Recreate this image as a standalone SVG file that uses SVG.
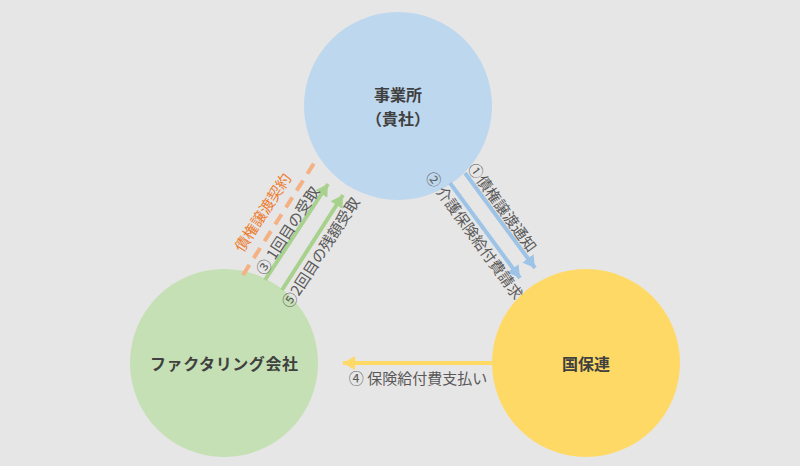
<svg xmlns="http://www.w3.org/2000/svg" width="800" height="466" viewBox="0 0 800 466">
<style>
.node-label{font-family:"Noto Sans CJK JP","Noto Sans",sans-serif;font-size:16px;font-weight:bold;fill:#404040;text-anchor:middle;dominant-baseline:central}
.lbl{font-family:"Noto Sans CJK JP","Noto Sans",sans-serif;font-size:15px;fill:#595959;text-anchor:middle;dominant-baseline:central}
.lbl-o{fill:#ed7d31}
.ln{fill:none;stroke-width:4}
</style>
<defs>
<marker id="ah-blue" markerUnits="userSpaceOnUse" markerWidth="14" markerHeight="14" refX="12" refY="7" orient="auto"><path d="M0,0 L12,7 L0,14 Z" fill="#9dc3e6"/></marker>
<marker id="ah-green" markerUnits="userSpaceOnUse" markerWidth="14" markerHeight="14" refX="12" refY="7" orient="auto"><path d="M0,0 L12,7 L0,14 Z" fill="#a9d18e"/></marker>
<marker id="ah-yellow" markerUnits="userSpaceOnUse" markerWidth="14" markerHeight="14" refX="12" refY="7" orient="auto"><path d="M0,0 L12,7 L0,14 Z" fill="#ffd966"/></marker>
</defs>
<rect width="800" height="466" fill="#e7e6e6"/>
<g id="node-office">
<circle cx="398" cy="106" r="94" fill="#bdd7ee"/>
<text class="node-label" x="398" y="94">事業所</text>
<text class="node-label" x="398" y="118">（貴社）</text>
</g>
<g id="node-factoring">
<circle cx="224" cy="363" r="94" fill="#c5e0b4"/>
<text class="node-label" x="224" y="363" textLength="148" lengthAdjust="spacing">ファクタリング会社</text>
</g>
<g id="node-kokuhoren">
<circle cx="586" cy="363" r="94" fill="#ffd966"/>
<text class="node-label" x="586" y="363">国保連</text>
</g>
<g id="connectors">
<line class="ln" x1="243" y1="275" x2="318" y2="157" stroke="#f4b183" stroke-width="5" stroke-dasharray="12,8"/>
<line class="ln" x1="265" y1="280" x2="328" y2="184" stroke="#a9d18e" marker-end="url(#ah-green)"/>
<line class="ln" x1="282" y1="290" x2="343" y2="195" stroke="#a9d18e" marker-end="url(#ah-green)"/>
<line class="ln" x1="465" y1="173" x2="535" y2="268" stroke="#9dc3e6" marker-end="url(#ah-blue)"/>
<line class="ln" x1="450" y1="183" x2="520" y2="278" stroke="#9dc3e6" marker-end="url(#ah-blue)"/>
<line class="ln" x1="492" y1="363" x2="343" y2="363" stroke="#ffd966" marker-end="url(#ah-yellow)"/>
</g>
<g id="labels">
<text class="lbl lbl-o" transform="translate(262,212) rotate(-57)">債権譲渡契約</text>
<text class="lbl" transform="translate(287,230) rotate(-57)">③ 1回目の受取</text>
<text class="lbl" transform="translate(320,252) rotate(-57)">⑤2回目の残額受取</text>
<text class="lbl" transform="translate(503,207) rotate(54)">①債権譲渡通知</text>
<text class="lbl" transform="translate(475,235) rotate(54)">② 介護保険給付費請求</text>
<text class="lbl" x="418" y="377">④ 保険給付費支払い</text>
</g>
</svg>
